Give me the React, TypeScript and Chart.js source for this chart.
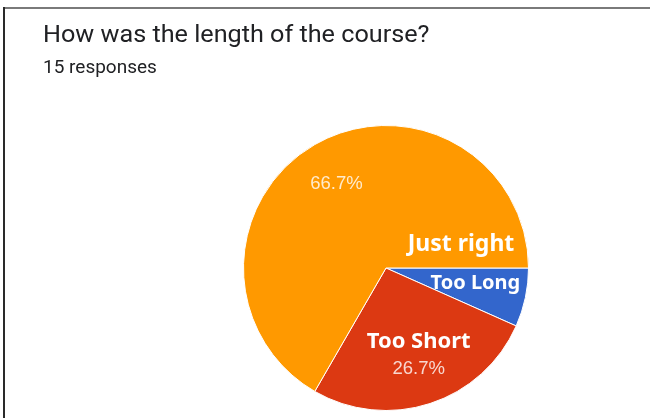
import React, { useEffect, useRef } from 'react';
import { Chart, registerables } from 'chart.js';

Chart.register(...registerables);

const titleText = 'How was the length of the course?';
const subtitleText = '15 responses';
const categories = ['Too Long', 'Too Short', 'Just right'];
const counts = [1, 4, 10];
const sliceColors = ['#3366cc', '#dc3912', '#ff9900'];
const showPercent = [false, true, true];

// label baseline anchor inside each slice: [fraction along slice angle, fraction of radius]
const calloutPlacement = [
  [0.556, 0.645],
  [0.457, 0.609],
  [0.946, 0.54],
];
const calloutSizes = [20, 22, 23];
const percentPlacement = [
  [0.5, 0.7],
  [0.509, 0.778],
  [0.492, 0.657],
];

function drawScaledText(ctx: any, text: string, x: number, y: number, sx: number) {
  ctx.save();
  ctx.translate(x, y);
  ctx.scale(sx, 1);
  ctx.fillText(text, 0, 0);
  ctx.restore();
}

const textPlugin = {
  id: 'textPlugin',
  beforeDraw(chart: any) {
    const ctx = chart.ctx;
    ctx.save();
    ctx.fillStyle = '#ffffff';
    ctx.fillRect(0, 0, chart.width, chart.height);
    // frame lines
    ctx.fillStyle = '#7a7a7a';
    ctx.fillRect(3, 7, chart.width - 3, 2);
    ctx.fillStyle = '#2a2a2a';
    ctx.fillRect(3, 7, 2, chart.height - 7);
    // title
    ctx.fillStyle = '#202124';
    ctx.textBaseline = 'alphabetic';
    ctx.textAlign = 'left';
    ctx.font = '24px Roboto';
    drawScaledText(ctx, titleText, 43, 42, 1.05);
    ctx.font = '17.5px Roboto';
    drawScaledText(ctx, subtitleText, 43, 72.5, 1.085);
    ctx.restore();
  },
  afterDatasetsDraw(chart: any) {
    const ctx = chart.ctx;
    const meta = chart.getDatasetMeta(0);
    const total = counts.reduce((a, b) => a + b, 0);
    ctx.save();
    ctx.textAlign = 'center';
    ctx.textBaseline = 'alphabetic';
    meta.data.forEach((arc: any, i: number) => {
      const p = arc.getProps(['x', 'y', 'startAngle', 'endAngle', 'outerRadius'], true);
      const span = p.endAngle - p.startAngle;
      if (showPercent[i]) {
        const [fa, fr] = percentPlacement[i];
        const a = p.startAngle + span * fa;
        const r = p.outerRadius * fr;
        ctx.font = '18px "Liberation Sans", Arial, sans-serif';
        ctx.fillStyle = 'rgba(255,255,255,0.8)';
        drawScaledText(
          ctx,
          ((counts[i] / total) * 100).toFixed(1) + '%',
          p.x + Math.cos(a) * r,
          p.y + Math.sin(a) * r,
          1.03
        );
      }
      const [ca, cr] = calloutPlacement[i];
      const a2 = p.startAngle + span * ca;
      const r2 = p.outerRadius * cr;
      ctx.font = 'bold ' + calloutSizes[i] + 'px "Noto Sans", sans-serif';
      ctx.fillStyle = '#ffffff';
      ctx.fillText(categories[i], p.x + Math.cos(a2) * r2, p.y + Math.sin(a2) * r2);
    });
    ctx.restore();
  },
};

export default function App() {
  const canvasRef = useRef<HTMLCanvasElement | null>(null);

  useEffect(() => {
    document.body.style.margin = '0';
    const canvas = canvasRef.current;
    if (!canvas) return;
    const chart = new Chart(canvas, {
      type: 'pie',
      data: {
        labels: categories,
        datasets: [
          {
            data: counts,
            backgroundColor: sliceColors,
            borderColor: '#ffffff',
            borderWidth: 1,
          },
        ],
      },
      options: {
        animation: false,
        responsive: false,
        rotation: 90,
        layout: { padding: { left: 243, right: 121, top: 125, bottom: 7 } },
        plugins: {
          legend: { display: false },
          tooltip: { enabled: false },
        },
      },
      plugins: [textPlugin],
    });
    return () => chart.destroy();
  }, []);

  return (
    <div style={{ width: 650, height: 418, position: 'relative' }}>
      <canvas ref={canvasRef} width={650} height={418} style={{ display: 'block' }} />
    </div>
  );
}
